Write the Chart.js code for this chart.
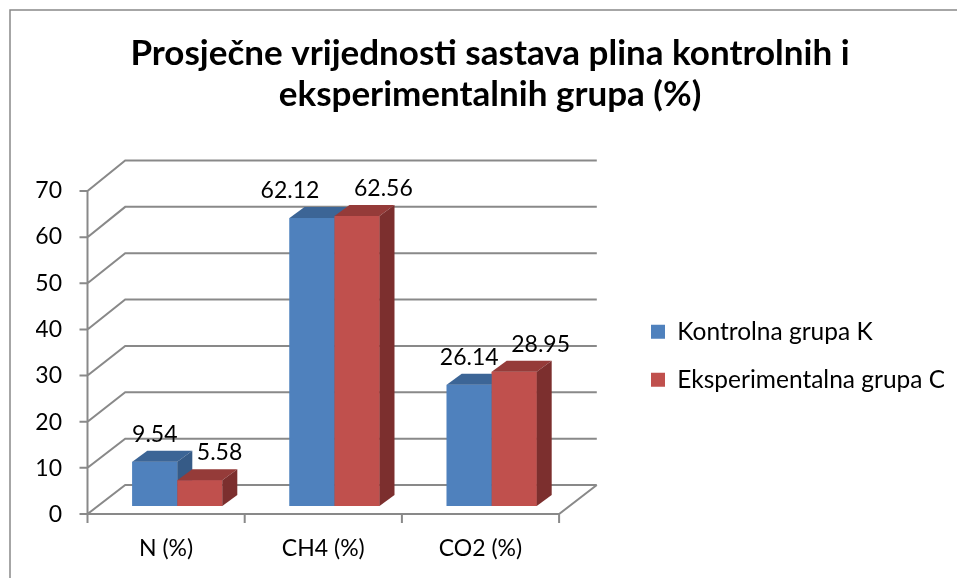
<!DOCTYPE html>
<html>
<head>
<meta charset="utf-8">
<title>Prosječne vrijednosti sastava plina</title>
<script src="https://cdn.jsdelivr.net/npm/chart.js@4.4.0/dist/chart.umd.min.js"></script>
<style>
  html, body { margin: 0; padding: 0; background: #fff; }
  canvas { display: block; }
</style>
</head>
<body>
<canvas id="myChart" width="957" height="578"></canvas>
<script>
const titleLines = ["Prosječne vrijednosti sastava plina kontrolnih i", "eksperimentalnih grupa (%)"];
const categories = ["N (%)", "CH4 (%)", "CO2 (%)"];
const seriesNames = ["Kontrolna grupa K", "Eksperimentalna grupa C"];
const kontrolnaValues = [9.54, 62.12, 26.14];
const eksperimentalnaValues = [5.58, 62.56, 28.95];
const yTicks = [0, 10, 20, 30, 40, 50, 60, 70];

const FONT = "Lato";
const GRID = "#898989";
// colours of the 3d faces: front, top, side
const faces = [
  { front: "#4f81bd", top: "#3c6596", side: "#365b87" },
  { front: "#c0504d", top: "#953b39", side: "#7c2f2e" }
];
// offsets of the front/back walls and of the bar depth, relative to the bar plane
const front = { dx: -11.2, dy: 8, k: 0.995 };
const back = { dx: 26.5, dy: -21 };
const depth = { dx: 15, dy: -11 };

const padL = 36;
const padR = 13;
const legendLeft = 627.5;

let bars3d = {
  id: "bars3d",
  beforeDraw(chart) {
    const c = chart.ctx;
    c.save();
    c.fillStyle = "#fff";
    c.fillRect(0, 0, chart.width, chart.height);
    c.strokeStyle = GRID;
    c.lineWidth = 1.5;
    c.beginPath();
    c.moveTo(10, chart.height);
    c.lineTo(10, 10);
    c.lineTo(chart.width, 10);
    c.stroke();
    c.restore();
  },
  beforeDatasetsDraw(chart) {
    const c = chart.ctx;
    const a = chart.chartArea;
    const y = chart.scales.y;
    const y0 = y.getPixelForValue(0);
    const fy = v => y0 + front.dy - (y0 - y.getPixelForValue(v)) * front.k;
    const fx = a.left + front.dx;
    c.save();
    c.strokeStyle = GRID;
    c.lineWidth = 2;
    c.beginPath();
    yTicks.forEach(v => {
      const py = y.getPixelForValue(v);
      c.moveTo(fx - 8, fy(v));
      c.lineTo(fx, fy(v));
      c.lineTo(a.left + back.dx, py + back.dy);
      c.lineTo(a.right + back.dx, py + back.dy);
    });
    // front value axis
    c.moveTo(fx, fy(yTicks[yTicks.length - 1]));
    c.lineTo(fx, fy(0) + 9);
    // floor
    c.moveTo(fx, fy(0));
    c.lineTo(a.right + front.dx, fy(0));
    c.lineTo(a.right + back.dx, y0 + back.dy);
    // category ticks
    const step = (a.right - a.left) / categories.length;
    for (let i = 1; i <= categories.length; i++) {
      c.moveTo(fx + i * step, fy(0));
      c.lineTo(fx + i * step, fy(0) + 9);
    }
    c.stroke();
    c.restore();
  },
  afterDatasetsDraw(chart) {
    const c = chart.ctx;
    const metas = chart.data.datasets.map((ds, d) => chart.getDatasetMeta(d));
    c.save();
    categories.forEach((cat, i) => {
      metas.forEach((meta, d) => {
        const p = meta.data[i].getProps(["x", "y", "base", "width"], true);
        const l = p.x - p.width / 2;
        const r = p.x + p.width / 2;
        c.fillStyle = faces[d].front;
        c.fillRect(l, p.y, p.width, p.base - p.y);
        c.fillStyle = faces[d].top;
        c.beginPath();
        c.moveTo(l, p.y);
        c.lineTo(l + depth.dx, p.y + depth.dy);
        c.lineTo(r + depth.dx, p.y + depth.dy);
        c.lineTo(r, p.y);
        c.closePath();
        c.fill();
        c.fillStyle = faces[d].side;
        c.beginPath();
        c.moveTo(r, p.y);
        c.lineTo(r + depth.dx, p.y + depth.dy);
        c.lineTo(r + depth.dx, p.base + depth.dy);
        c.lineTo(r, p.base);
        c.closePath();
        c.fill();
      });
    });

    // value labels
    c.fillStyle = "#000";
    c.font = "23px " + FONT;
    c.textBaseline = "middle";
    categories.forEach((cat, i) => {
      const pb = metas[0].data[i].getProps(["x", "y"], true);
      const pr = metas[1].data[i].getProps(["x", "y"], true);
      const yb = pb.y + depth.dy - 16.5;
      const yr = pr.y + depth.dy - 16.5;
      let xb = pb.x;
      if (Math.abs(yb - yr) < 10) xb -= 22;
      c.textAlign = "center";
      c.fillText(chart.data.datasets[0].data[i].toFixed(2), xb, yb);
      c.textAlign = "left";
      c.fillText(chart.data.datasets[1].data[i].toFixed(2), pr.x - 3, yr);
    });
    c.restore();
  }
};

Chart.defaults.font.family = FONT;

const ctx = document.getElementById("myChart").getContext("2d");

let chartData = {
  labels: categories,
  datasets: [
    {
      label: seriesNames[0],
      data: kontrolnaValues,
      backgroundColor: faces[0].front,
      borderWidth: 0
    },
    {
      label: seriesNames[1],
      data: eksperimentalnaValues,
      backgroundColor: faces[1].front,
      borderWidth: 0
    }
  ]
};

let chartOption = {
  responsive: false,
  animation: false,
  events: [],
  categoryPercentage: 0.5725,
  barPercentage: 1,
  layout: {
    padding: { left: padL, right: padR, top: 0, bottom: 0 }
  },
  scales: {
    x: {
      grid: { display: false, drawTicks: false },
      border: { display: false },
      ticks: {
        color: "#000",
        font: { size: 23 },
        padding: 29,
        labelOffset: -11.2,
        maxRotation: 0
      },
      afterFit: s => { s.height = 72; }
    },
    y: {
      min: yTicks[0],
      max: yTicks[yTicks.length - 1],
      grid: { display: false, drawTicks: false },
      border: { display: false },
      ticks: {
        stepSize: yTicks[1] - yTicks[0],
        color: "#000",
        font: { size: 23 },
        padding: 36.7,
        labelOffset: 9
      },
      afterFit: s => { s.width = 98.7 - padL; }
    },
    gap: {
      type: "linear",
      position: "right",
      grid: { display: false, drawTicks: false },
      border: { display: false },
      ticks: { display: false },
      afterFit: s => { s.width = legendLeft - 570.3; }
    }
  },
  plugins: {
    title: {
      display: true,
      text: titleLines,
      color: "#000",
      font: { size: 35, weight: "bold", lineHeight: 41 / 35 },
      padding: { top: 33, bottom: 66.5 }
    },
    legend: {
      position: "right",
      fullSize: false,
      maxWidth: 957 - padR - legendLeft,
      align: "center",
      title: { display: true, text: "", padding: 11.4, font: { size: 1 } },
      labels: {
        boxWidth: 14,
        boxHeight: 14,
        padding: 23.5,
        color: "#000",
        font: { size: 24.5 }
      }
    },
    tooltip: { enabled: false }
  }
};

let printChart = (cData, cOption) => {
  new Chart(ctx, {
    type: "bar",
    data: cData,
    options: cOption,
    plugins: [bars3d]
  });
};

printChart(chartData, chartOption);
</script>
</body>
</html>
